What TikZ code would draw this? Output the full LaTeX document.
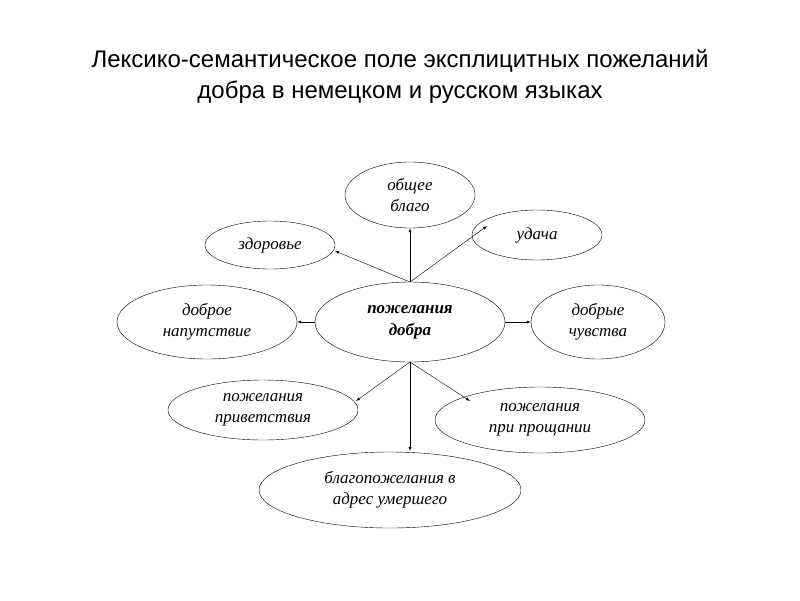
\documentclass[tikz,border=0pt]{standalone}
\usepackage{fontspec}
\setmainfont{Liberation Serif}
\newfontfamily\titlefont{Liberation Sans}
\usetikzlibrary{shapes,arrows,positioning}
\begin{document}
\begin{tikzpicture}[x=1pt,y=-1pt]
\tikzstyle{field}=[ellipse, draw=black, thin, inner sep=0pt, align=center, font=\fontsize{17}{21}\selectfont\itshape]
\tikzstyle{connect}=[-latex, thin]
\useasboundingbox (0,0) rectangle (800,600);
	\node[align=center, font=\titlefont\fontsize{24}{31}\selectfont] (title) at (400,77) {Лексико-семантическое поле эксплицитных пожеланий\\добра в немецком и русском языках};

	\node[field, minimum width=190, minimum height=80, font=\fontsize{17}{22}\selectfont\bfseries\itshape] (core) at (410,322) {пожелания\\добра};
	\node[field, minimum width=130, minimum height=66] (common) at (410,195) {общее\\благо};
	\node[field, minimum width=130, minimum height=50] (luck) at (537,235) {удача};
	\node[field, minimum width=130, minimum height=48] (health) at (270,245) {здоровье};
	\node[field, minimum width=180, minimum height=74] (parting) at (207,322) {доброе\\напутствие};
	\node[field, minimum width=134, minimum height=74] (feel) at (598,322) {добрые\\чувства};
	\node[field, minimum width=190, minimum height=60] (greet) at (263,410) {пожелания\\приветствия};
	\node[field, minimum width=210, minimum height=66] (bye) at (540,420) {пожелания\\при прощании};
	\node[field, minimum width=262, minimum height=76] (dead) at (390,490) {благопожелания в\\адрес умершего};

	\coordinate (top) at (410,282);
	\coordinate (bot) at (410,362);
	\path
		(top) edge [connect] (common)
		(top) edge [connect] (487,226)
		(top) edge [connect] (335,251)
		(core.west) edge [connect] (parting.east)
		(core.east) edge [connect] (feel.west)
		(bot) edge [connect] (356,401)
		(bot) edge [connect] (470,401)
		(bot) edge [connect] (410,451);
\end{tikzpicture}
\end{document}
